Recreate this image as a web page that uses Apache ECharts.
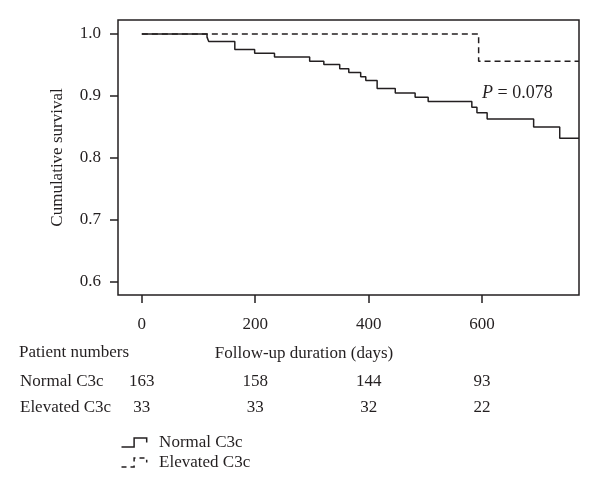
<!DOCTYPE html>
<html>
<head>
<meta charset="utf-8">
<script src="https://cdn.jsdelivr.net/npm/echarts@6/dist/echarts.min.js"></script>
<style>html,body{margin:0;padding:0;background:#fff}#c{width:600px;height:498px}</style>
</head>
<body>
<div id="c"></div>
<script>
// Kaplan-Meier step data
var normalTimes = [0,115,118,164,199,234,296,321,349,365,386,395,415,447,482,505,582,591,609,691,737,771];
var normalSurv  = [1,0.995,0.988,0.975,0.969,0.963,0.956,0.951,0.944,0.938,0.931,0.925,0.912,0.905,0.898,0.891,0.882,0.873,0.863,0.850,0.832,0.832];
var elevatedTimes = [0,594,771];
var elevatedSurv  = [1,0.956,0.956];
var xTicks = [0,200,400,600];
var yTicks = [0.6,0.7,0.8,0.9,1.0];
var riskTimes = [0,200,400,600];
var riskNormal = [163,158,144,93];
var riskElevated = [33,33,32,22];
var seriesNames = ['Normal C3c','Elevated C3c'];
var pText = '0.078';

var FONT = 'Liberation Serif';
var TXT = '#231f20';

function pairs(t, s){ return t.map(function(v,i){ return [v, s[i]]; }); }

var chart = echarts.init(document.getElementById('c'));
var option = {
  animation: false,
  backgroundColor: '#fff',
  grid: { left: 118, right: 21, top: 20, bottom: 203, show: true, borderColor: '#231f20', borderWidth: 1.5, backgroundColor: 'transparent' },
  xAxis: {
    type: 'value', min: -42, max: 771,
    splitLine: { show: false },
    axisLine: { show: false, onZero: false },
    axisTick: { show: true, customValues: xTicks, length: 8, lineStyle: { color: '#231f20', width: 1.5 } },
    axisLabel: { customValues: xTicks, margin: 21, fontFamily: FONT, fontSize: 17, color: TXT },
    name: 'Follow-up duration (days)', nameLocation: 'middle', nameGap: 50,
    nameTextStyle: { fontFamily: FONT, fontSize: 17, color: TXT, padding: [0, 89, 0, 0] }
  },
  yAxis: {
    type: 'value', min: 0.579, max: 1.0226,
    splitLine: { show: false },
    axisLine: { show: false, onZero: false },
    axisTick: { show: true, customValues: yTicks, length: 8, lineStyle: { color: '#231f20', width: 1.5 } },
    axisLabel: { customValues: yTicks, margin: 17, fontFamily: FONT, fontSize: 17, color: TXT,
      formatter: function(v){ return v.toFixed(1); } },
    name: 'Cumulative survival', nameLocation: 'middle', nameGap: 52, nameRotate: 90,
    nameTextStyle: { fontFamily: FONT, fontSize: 17, color: TXT }
  },
  legend: {
    orient: 'vertical', left: 114, top: 429, itemWidth: 28, itemHeight: 9, itemGap: 3,
    textStyle: { fontFamily: FONT, fontSize: 17, color: TXT, padding: [0, 0, 0, 6] },
    data: [
      { name: seriesNames[0], icon: 'path://M0,10 L14,10 L14,0 L28,0 L28,5',
        itemStyle: { color: 'none', borderColor: '#231f20', borderWidth: 1.5 } },
      { name: seriesNames[1], icon: 'path://M0,10 L14,10 L14,0 L28,0 L28,5',
        itemStyle: { color: 'none', borderColor: '#231f20', borderWidth: 1.5, borderType: [5,4] } }
    ]
  },
  series: [
    { name: seriesNames[0], type: 'line', step: 'end', showSymbol: false, symbol: 'none',
      data: pairs(normalTimes, normalSurv), lineStyle: { color: '#231f20', width: 1.5 }, itemStyle: { color: '#231f20' } },
    { name: seriesNames[1], type: 'line', step: 'end', showSymbol: false, symbol: 'none',
      data: pairs(elevatedTimes, elevatedSurv), lineStyle: { color: '#231f20', width: 1.5, type: [6,4] }, itemStyle: { color: '#231f20' } }
  ]
};
chart.setOption(option);

// annotation & risk table positioned through the chart's scales
var g = [];
var pPos = chart.convertToPixel({ gridIndex: 0 }, [600, 0.904]);
g.push({ type: 'text', x: pPos[0], y: pPos[1], style: {
  text: '{i|P} = ' + pText, fontFamily: FONT, fontSize: 18, fill: TXT, verticalAlign: 'middle',
  rich: { i: { fontStyle: 'italic', fontFamily: FONT, fontSize: 18, fill: TXT } } } });
g.push({ type: 'text', x: 19, y: 353, style: { text: 'Patient numbers', fontFamily: FONT, fontSize: 17, fill: TXT, verticalAlign: 'middle' } });
g.push({ type: 'text', x: 20, y: 382, style: { text: seriesNames[0], fontFamily: FONT, fontSize: 17, fill: TXT, verticalAlign: 'middle' } });
g.push({ type: 'text', x: 20, y: 408, style: { text: seriesNames[1], fontFamily: FONT, fontSize: 17, fill: TXT, verticalAlign: 'middle' } });
riskTimes.forEach(function(t, i){
  var px = chart.convertToPixel({ xAxisIndex: 0 }, t);
  g.push({ type: 'text', x: px, y: 382, style: { text: String(riskNormal[i]), fontFamily: FONT, fontSize: 17, fill: TXT, align: 'center', verticalAlign: 'middle' } });
  g.push({ type: 'text', x: px, y: 408, style: { text: String(riskElevated[i]), fontFamily: FONT, fontSize: 17, fill: TXT, align: 'center', verticalAlign: 'middle' } });
});
chart.setOption({ graphic: g });
</script>
</body>
</html>
